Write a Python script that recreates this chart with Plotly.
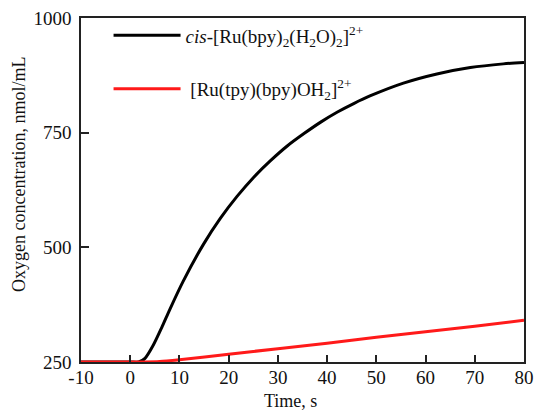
import plotly.graph_objects as go

# Black series: cis-[Ru(bpy)2(H2O)2]2+
t_cis = [-10, 0, 1.7, 3.0, 4.7, 6.4, 8.1, 10.8, 14.9, 18.3, 21.7, 25.1, 28.5,
         31.9, 35.3, 38.7, 42.1, 45.5, 48.7, 55.5, 62.3, 69.1, 75.8, 80.0]
o2_cis = [250, 250, 250, 258, 287, 325, 366, 427, 507, 563, 611, 653, 689,
          721, 748, 773, 795, 814, 830, 858, 878, 892, 900, 903]

# Red series: [Ru(tpy)(bpy)OH2]2+
t_tpy = [-10, 3, 6, 10, 20, 30, 40, 50, 60, 70, 80]
o2_tpy = [250, 250, 251, 255, 267, 279, 291, 304, 316, 328, 341]

x_ticks = [-10, 0, 10, 20, 30, 40, 50, 60, 70, 80]
x_ticktext = ["-10", "0", "10", "20", "30", "40", "50", "60", "70", "80"]
y_ticks = [250, 500, 750, 1000]

FONT = "Liberation Serif"

fig = go.Figure()
fig.add_trace(go.Scatter(
    x=t_cis, y=o2_cis, mode="lines",
    line=dict(color="black", width=3, shape="spline", smoothing=0.7),
    name="<i>cis</i>-[Ru(bpy)<sub>2</sub>(H<sub>2</sub>O)<sub>2</sub>]<sup>2+</sup>",
    legendgroup="a",
))
fig.add_trace(go.Scatter(
    x=t_tpy, y=o2_tpy, mode="lines",
    line=dict(color="#ff1a1a", width=3, shape="spline", smoothing=0.6),
    name="&nbsp;[Ru(tpy)(bpy)OH<sub>2</sub>]<sup>2+</sup>",
    legendgroup="b",
))

axis_common = dict(
    showline=True, linecolor="#222", linewidth=1.5, mirror=True,
    ticks="inside", tickcolor="#222", tickwidth=1.5,
    showgrid=False, zeroline=False,
    tickfont=dict(family=FONT, size=19, color="#111"),
)

fig.update_layout(
    width=535, height=410,
    margin=dict(l=81, r=11, t=18, b=48, autoexpand=False),
    paper_bgcolor="white", plot_bgcolor="white",
    font=dict(family=FONT, color="#111"),
    xaxis=dict(range=[-10, 80], tickvals=x_ticks, ticktext=x_ticktext, ticklen=7,
               ticklabelstandoff=-3, automargin=False, **axis_common),
    yaxis=dict(range=[250, 1000], tickvals=y_ticks, ticklen=8,
               ticklabelstandoff=4, automargin=False,
               **axis_common),
    legend=dict(x=0.0622, y=1.005, xanchor="left", yanchor="top",
                font=dict(family=FONT, size=19, color="#111"),
                bgcolor="rgba(0,0,0,0)", tracegroupgap=26, itemwidth=67),
    showlegend=True,
    annotations=[
        dict(text="Time, s", xref="paper", yref="paper", x=0.472, y=-0.113,
             xanchor="center", yanchor="middle", showarrow=False,
             font=dict(family=FONT, size=18, color="#111")),
        dict(text="Oxygen concentration, nmol/mL", xref="paper", yref="paper",
             x=-0.14, y=0.5465, xanchor="center", yanchor="middle",
             textangle=-90, showarrow=False,
             font=dict(family=FONT, size=18, color="#111")),
    ],
)

fig.write_html("out.html",
               config={"displayModeBar": False},
               post_script="document.body.style.margin='0px';document.body.style.overflow='hidden';")
